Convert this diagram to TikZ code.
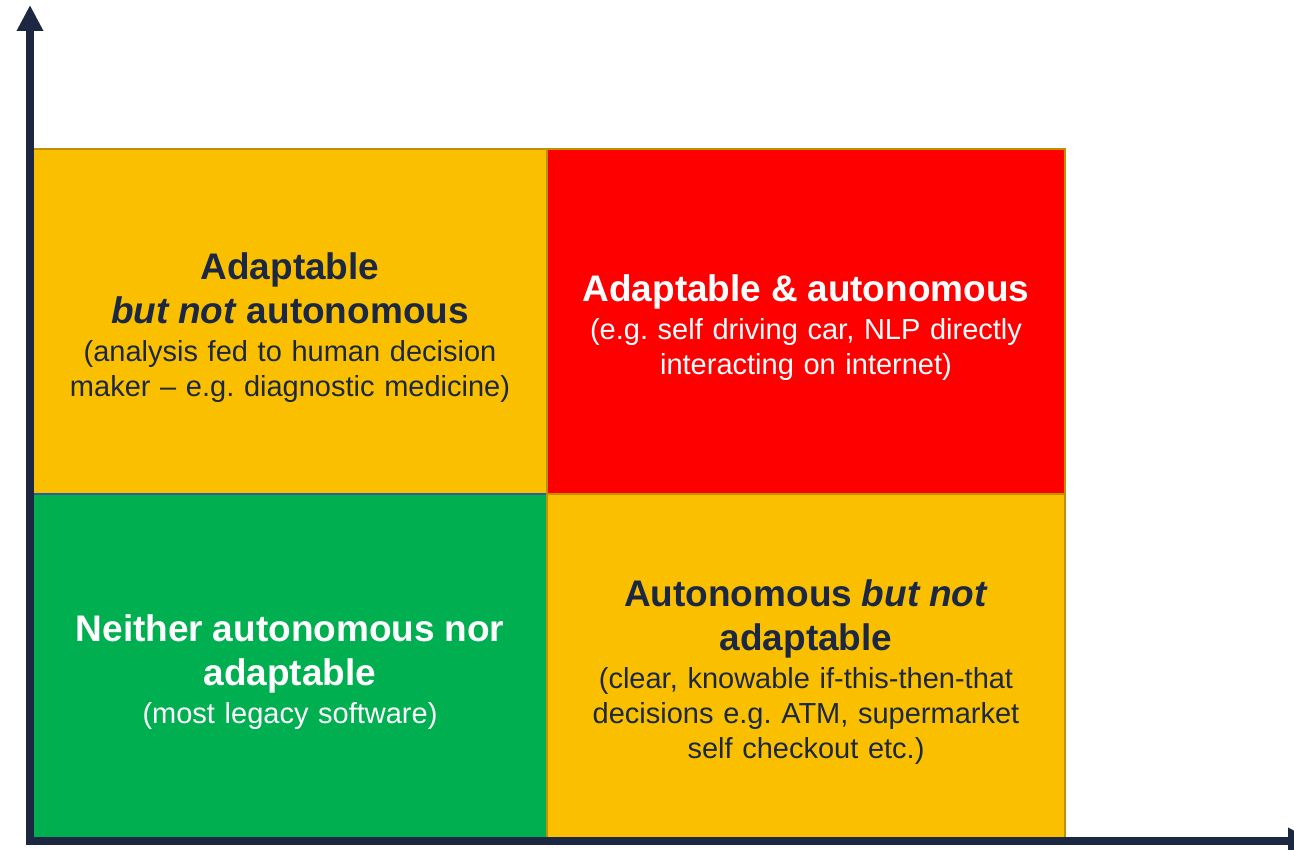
\documentclass[tikz,border=0pt]{standalone}
\usepackage{fontspec}
\setmainfont{Liberation Sans}
\usepackage{xcolor}
\definecolor{amber}{HTML}{FAC000}
\definecolor{signalred}{HTML}{FF0000}
\definecolor{okgreen}{HTML}{00B050}
\definecolor{darkgold}{HTML}{BF9000}
\definecolor{navy}{HTML}{1C2841}
\definecolor{edgeblue}{HTML}{2E5C9A}
\usetikzlibrary{arrows.meta}
\frenchspacing
\newcommand{\quadhead}{\fontsize{37}{44}\selectfont\bfseries\rule{0pt}{40pt}}
\newcommand{\quadbody}{\fontsize{29}{35}\selectfont}
\newcommand{\quadgap}{\par\vspace{3pt}}

\begin{document}
\begin{tikzpicture}[x=1pt,y=-1pt,line join=miter,
                    quad/.style={rectangle,inner sep=0pt,minimum width=514pt,
                                 minimum height=345pt,text width=490pt,align=center,
                                 font=\quadbody},
                    axis/.style={{Triangle[width=25pt,length=26pt]}-{Triangle[width=25pt,length=26pt]},
                                 line width=7.5pt,navy}]
  \useasboundingbox (0,0) rectangle (1294,850);

  % quadrants
  \node[quad,fill=amber,draw=darkgold,line width=2.5pt,text=navy] (TL) at (290,321.5)
    {{\quadhead Adaptable\\ \textit{but not} autonomous\quadgap}
     (analysis fed to human decision\\ maker – e.g. diagnostic medicine)};
  \node[quad,fill=signalred,draw=darkgold,line width=2.5pt,text=white,
        minimum width=518pt] (TR) at (806,321.5)
    {{\quadhead Adaptable \& autonomous\quadgap}
     (e.g. self driving car, NLP directly\\ interacting on internet)};
  \node[quad,fill=okgreen,text=white,minimum height=344pt] (BL) at (290,666)
    {{\quadhead Neither autonomous nor\\ adaptable\quadgap}
     (most legacy software)};
  \draw[edgeblue,line width=2pt] (BL.north west) -- (BL.north east);
  \node[quad,fill=amber,draw=darkgold,line width=2.5pt,text=navy,
        minimum width=518pt,minimum height=344pt] (BR) at (806,666)
    {{\quadhead Autonomous \textit{but not}\\ adaptable\quadgap}
     (clear, knowable if-this-then-that\\ decisions e.g. ATM, supermarket\\ self checkout etc.)};

  % axes
  \coordinate (ytip) at (30,5);
  \coordinate (xtip) at (1314,841);
  \draw[axis] (ytip) |- (xtip);
\end{tikzpicture}
\end{document}
